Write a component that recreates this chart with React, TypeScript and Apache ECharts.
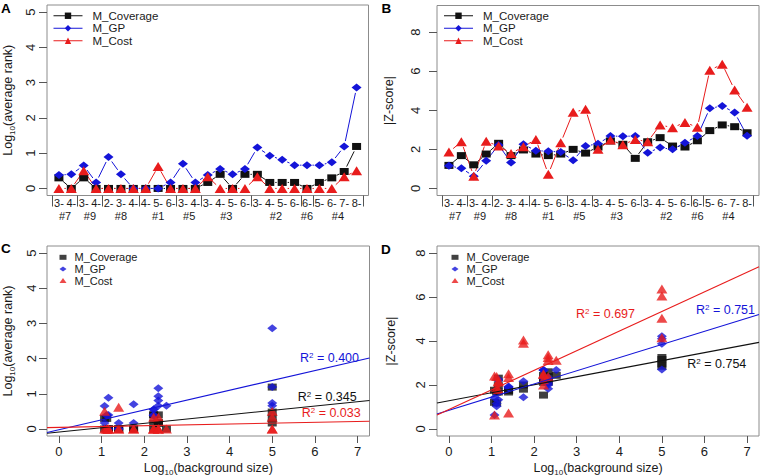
import React, { useEffect, useRef } from "react";
import * as echarts from "echarts";

// ---------- data ----------
const catLabels = ["3-", "4-", "3-", "4-", "2-", "3-", "4-", "4-", "5-", "6-", "3-", "4-", "3-", "4-", "5-", "6-", "3-", "4-", "5-", "6-", "6-", "5-", "6-", "7-", "8-"];
const groupNames = ["#7", "#9", "#8", "#1", "#5", "#3", "#2", "#6", "#4"];
const groupSizes = [2, 2, 3, 3, 2, 4, 4, 1, 4];
// log10(background size) of each group
const bgLog10 = [1.12, 1.07, 1.16, 1.4, 1.75, 2.22, 2.33, 2.52, 5.0];

// Panel A: log10(average rank)
const rankCoverage = [0.3, 0, 0.3, 0, 0, 0, 0, 0, 0, 0, 0, 0, 0.17, 0.4, 0, 0.4, 0.4, 0.17, 0.17, 0.17, 0, 0.17, 0.3, 0.48, 1.19];
const rankGP = [0.38, 0.4, 0.65, 0.17, 0.89, 0.4, 0, 0, 0, 0.17, 0.7, 0.17, 0.38, 0.55, 0.4, 0.55, 1.16, 0.93, 0.81, 0.66, 0.66, 0.66, 0.74, 1.19, 2.86];
const rankCost = [0, 0, 0.5, 0, 0, 0, 0, 0, 0.62, 0, 0, 0, 0.33, 0, 0, 0, 0.33, 0, 0, 0, 0, 0, 0, 0.33, 0.5];

// Panel B: |Z-score|
const zCoverage = [1.18, 1.68, 1.21, 1.76, 2.31, 1.68, 1.97, 1.76, 1.68, 1.76, 2.0, 1.81, 2.12, 2.43, 2.26, 1.54, 2.39, 2.6, 2.17, 2.12, 2.44, 2.96, 3.25, 3.16, 2.85];
const zGP = [1.16, 1.03, 0.63, 1.42, 2.22, 1.33, 2.26, 1.93, 1.91, 1.86, 1.44, 2.17, 2.29, 2.68, 2.67, 2.68, 1.83, 2.09, 2.0, 2.34, 2.68, 4.1, 4.22, 3.88, 2.7];
const zCost = [1.86, 2.39, 0.63, 2.41, 2.17, 1.79, 2.14, 2.51, 0.73, 2.34, 3.9, 4.05, 2.0, 2.48, 2.24, 2.51, 2.39, 3.25, 3.11, 3.38, 3.13, 6.05, 6.36, 5.04, 4.15];

// Regression fits (intercept, slope) and R² labels: [Coverage, GP, Cost]
const fitRankIntercept = [-0.088, -0.02, 0.045];
const fitRankSlope = [0.1235, 0.28, 0.024];
const fitRankR2 = ["0.345", "0.400", "0.033"];
const fitZIntercept = [1.28, 0.85, 0.88];
const fitZSlope = [0.365, 0.598, 0.893];
const fitZR2 = ["0.754", "0.751", "0.697"];

const yTicksRank = [0, 1, 2, 3, 4, 5];
const yTicksZ = [0, 2, 4, 6, 8];
const xTicksBg = [0, 1, 2, 3, 4, 5, 6, 7];

// ---------- styling ----------
const FONT = '"Liberation Sans", Arial, Helvetica, sans-serif';
const BLACK = "#111111";
const BLUE = "#1414d8";
const RED = "#e81c1c";
const BOX = "#8c8c8c";
const TXT = "#1a1a1a";

const specs = [
  { key: "M_Coverage", color: BLACK, symbol: "rect", size: [9, 7] },
  { key: "M_GP", color: BLUE, symbol: "diamond", size: [10, 8] },
  { key: "M_Cost", color: RED, symbol: "triangle", size: [11, 9] },
];

// derived positions
const groupStarts: number[] = [];
{
  let s = 1;
  groupSizes.forEach((n) => {
    groupStarts.push(s);
    s += n;
  });
}
const catPos = catLabels.map((_, i) => i + 1);
const groupOfCat: number[] = [];
groupSizes.forEach((n, g) => {
  for (let k = 0; k < n; k++) groupOfCat.push(g);
});
const boundaries = groupStarts.map((s) => s - 0.5).concat([catLabels.length + 0.5]);
const groupCenters = groupStarts.map((s, g) => s + (groupSizes[g] - 1) / 2);

const subRich = {
  s: { fontSize: 8, verticalAlign: "bottom", fontFamily: FONT, color: TXT },
};

function catXAxes(gridIndex: number) {
  const min = 0.04;
  const max = catLabels.length + 0.96;
  return [
    {
      type: "value",
      gridIndex,
      min,
      max,
      axisLine: { show: false, onZero: false },
      splitLine: { show: false },
      axisTick: { show: true, customValues: boundaries, length: 11, lineStyle: { color: "#555" } },
      axisLabel: {
        customValues: catPos,
        formatter: (v: number) => catLabels[Math.round(v) - 1] ?? "",
        fontSize: 11,
        color: TXT,
        margin: 2,
        fontFamily: FONT,
      },
    },
    {
      type: "value",
      gridIndex,
      min,
      max,
      position: "bottom",
      offset: 14,
      axisLine: { show: false, onZero: false },
      splitLine: { show: false },
      axisTick: { show: false },
      axisLabel: {
        customValues: groupCenters,
        formatter: (v: number) => {
          const g = groupCenters.findIndex((c) => Math.abs(c - v) < 1e-6);
          return g >= 0 ? groupNames[g] : "";
        },
        fontSize: 11,
        color: TXT,
        margin: 1,
        fontFamily: FONT,
      },
    },
  ];
}

function bgXAxis(gridIndex: number) {
  return {
    type: "value",
    gridIndex,
    min: -0.28,
    max: 7.28,
    axisLine: { show: false, onZero: false },
    splitLine: { show: false },
    axisTick: { show: true, customValues: xTicksBg, length: 7, lineStyle: { color: "#555" } },
    axisLabel: { customValues: xTicksBg, fontSize: 13, color: TXT, margin: 9, fontFamily: FONT },
    name: "Log{s|10}(background size)",
    nameLocation: "middle",
    nameGap: 24,
    nameMoveOverlap: false,
    nameTextStyle: { fontSize: 12.5, color: TXT, fontFamily: FONT, lineHeight: 16, rich: subRich },
  };
}

function yAxis(gridIndex: number, min: number, max: number, ticks: number[], name: string, labelMargin: number, nameGap: number) {
  return {
    type: "value",
    gridIndex,
    position: "left",
    min,
    max,
    axisLine: { show: false, onZero: false },
    splitLine: { show: false },
    axisTick: { show: true, customValues: ticks, length: 8, lineStyle: { color: "#555" } },
    axisLabel: { customValues: ticks, rotate: 90, fontSize: 13, color: TXT, margin: labelMargin, fontFamily: FONT },
    name,
    nameLocation: "middle",
    nameRotate: 90,
    nameGap,
    nameMoveOverlap: false,
    nameTextStyle: { fontSize: 12.5, color: TXT, fontFamily: FONT, lineHeight: 16, rich: subRich },
  };
}

const GAP = 5.5;
function segmentSeries(vals: number[], color: string, xAxisIndex: number, yAxisIndex: number) {
  const data = vals.slice(0, -1).map((v, i) => [catPos[i], v, catPos[i + 1], vals[i + 1]]);
  return {
    type: "custom",
    xAxisIndex,
    yAxisIndex,
    silent: true,
    encode: { x: [0, 2], y: [1, 3] },
    data,
    renderItem: (params: any, api: any) => {
      const p1 = api.coord([api.value(0), api.value(1)]);
      const p2 = api.coord([api.value(2), api.value(3)]);
      const dx = p2[0] - p1[0];
      const dy = p2[1] - p1[1];
      const L = Math.hypot(dx, dy);
      if (L <= 2 * GAP + 0.5) return { type: "group", children: [] };
      const ux = dx / L;
      const uy = dy / L;
      return {
        type: "line",
        shape: { x1: p1[0] + ux * GAP, y1: p1[1] + uy * GAP, x2: p2[0] - ux * GAP, y2: p2[1] - uy * GAP },
        style: { stroke: color, lineWidth: 1 },
      };
    },
  };
}

function profileSeries(prefix: string, sets: number[][], xAxisIndex: number, yAxisIndex: number) {
  const out: any[] = [];
  specs.forEach((sp, k) => {
    out.push(segmentSeries(sets[k], sp.color, xAxisIndex, yAxisIndex));
    out.push({
      type: "line",
      name: prefix + sp.key,
      xAxisIndex,
      yAxisIndex,
      silent: true,
      data: sets[k].map((v, i) => [catPos[i], v]),
      symbol: sp.symbol,
      symbolSize: sp.size,
      showSymbol: true,
      lineStyle: { width: 0, color: sp.color },
      itemStyle: { color: sp.color },
    });
  });
  return out;
}

function scatterSeries(prefix: string, sets: number[][], intercepts: number[], slopes: number[], xAxisIndex: number, yAxisIndex: number) {
  const out: any[] = [];
  specs.forEach((sp, k) => {
    out.push({
      type: "scatter",
      name: prefix + sp.key,
      xAxisIndex,
      yAxisIndex,
      silent: true,
      data: sets[k].map((v, i) => [bgLog10[groupOfCat[i]], v]),
      symbol: sp.symbol,
      symbolSize: sp.size,
      itemStyle: { color: sp.color },
    });
  });
  specs.forEach((sp, k) => {
    const xs = [-0.28, 7.28];
    out.push({
      type: "line",
      xAxisIndex,
      yAxisIndex,
      silent: true,
      showSymbol: false,
      symbol: "none",
      data: xs.map((x) => [x, intercepts[k] + slopes[k] * x]),
      lineStyle: { width: 1.1, color: sp.color },
      itemStyle: { color: sp.color },
      z: 3,
    });
  });
  return out;
}

function profileLegend(prefix: string, left: number) {
  return {
    orient: "vertical",
    left,
    top: 9.5,
    padding: 0,
    itemGap: 0,
    itemWidth: 29,
    itemHeight: 8,
    selectedMode: false,
    data: specs.map((s) => prefix + s.key),
    formatter: (n: string) => n.slice(prefix.length),
    lineStyle: { width: 1 },
    textStyle: { fontSize: 11.5, color: TXT, fontFamily: FONT, lineHeight: 12.5, padding: [0, 0, 0, 5] },
  };
}

function scatterLegend(prefix: string, left: number) {
  return {
    orient: "vertical",
    left,
    top: 251.5,
    padding: 0,
    itemGap: 0,
    itemWidth: 7,
    itemHeight: 5,
    selectedMode: false,
    data: specs.map((s) => prefix + s.key),
    formatter: (n: string) => n.slice(prefix.length),
    textStyle: { fontSize: 11, color: TXT, fontFamily: FONT, lineHeight: 11.6, padding: [0, 0, 0, 3] },
  };
}

function r2Text(x: number, y: number, value: string, color: string) {
  return {
    type: "text",
    x,
    y,
    silent: true,
    style: {
      text: "R{p|2} = " + value,
      fill: color,
      fontSize: 12.5,
      fontFamily: FONT,
      verticalAlign: "middle",
      align: "left",
      rich: { p: { fontSize: 8, verticalAlign: "top", fill: color, fontFamily: FONT } },
    },
  };
}

function panelLetter(x: number, y: number, t: string) {
  return {
    type: "text",
    x,
    y,
    silent: true,
    style: { text: t, fill: "#000", fontSize: 13.5, fontWeight: "bold", fontFamily: FONT, verticalAlign: "top" },
  };
}

function buildOption() {
  const gridBase = { show: true, borderColor: BOX, borderWidth: 1, backgroundColor: "transparent", containLabel: false, outerBoundsMode: "none" };
  const xAxes = [...catXAxes(0), ...catXAxes(1), bgXAxis(2), bgXAxis(3)];
  const yAxes = [
    yAxis(0, -0.2, 5.2, yTicksRank, "Log{s|10}(average rank)", 10, 31),
    yAxis(1, -0.36, 9.36, yTicksZ, "|Z-score|", 15.5, 40.5),
    yAxis(2, -0.2, 5.2, yTicksRank, "Log{s|10}(average rank)", 9.5, 31),
    yAxis(3, -0.32, 8.32, yTicksZ, "|Z-score|", 10.5, 38.5),
  ];
  const series = [
    ...profileSeries("A:", [rankCoverage, rankGP, rankCost], 0, 0),
    ...profileSeries("B:", [zCoverage, zGP, zCost], 2, 1),
    ...scatterSeries("C:", [rankCoverage, rankGP, rankCost], fitRankIntercept, fitRankSlope, 4, 2),
    ...scatterSeries("D:", [zCoverage, zGP, zCost], fitZIntercept, fitZSlope, 5, 3),
  ];
  return {
    animation: false,
    backgroundColor: "#ffffff",
    textStyle: { fontFamily: FONT },
    grid: [
      { ...gridBase, left: 47, top: 5, width: 321.5, height: 190.5 },
      { ...gridBase, left: 437, top: 5.5, width: 322, height: 190 },
      { ...gridBase, left: 47, top: 246, width: 322.5, height: 190 },
      { ...gridBase, left: 437, top: 246, width: 322, height: 190 },
    ],
    xAxis: xAxes,
    yAxis: yAxes,
    legend: [profileLegend("A:", 53), profileLegend("B:", 443.5), scatterLegend("C:", 59.5), scatterLegend("D:", 451.5)],
    graphic: [
      panelLetter(1, 1, "A"),
      panelLetter(381.5, 1, "B"),
      panelLetter(1, 241, "C"),
      panelLetter(381, 242, "D"),
      r2Text(300, 357.7, fitRankR2[1], BLUE),
      r2Text(297.7, 397, fitRankR2[0], BLACK),
      r2Text(301.7, 413.3, fitRankR2[2], RED),
      r2Text(576, 313.7, fitZR2[2], RED),
      r2Text(696, 310, fitZR2[1], BLUE),
      r2Text(687.3, 363.7, fitZR2[0], BLACK),
    ],
    series,
  };
}

export default function App() {
  const ref = useRef<HTMLDivElement>(null);
  useEffect(() => {
    if (!ref.current) return;
    const chart = echarts.init(ref.current, null, { renderer: "svg" });
    chart.setOption(buildOption() as any);
    return () => chart.dispose();
  }, []);
  return <div ref={ref} style={{ position: "absolute", left: 0, top: 0, width: 760, height: 476, background: "#fff" }} />;
}
